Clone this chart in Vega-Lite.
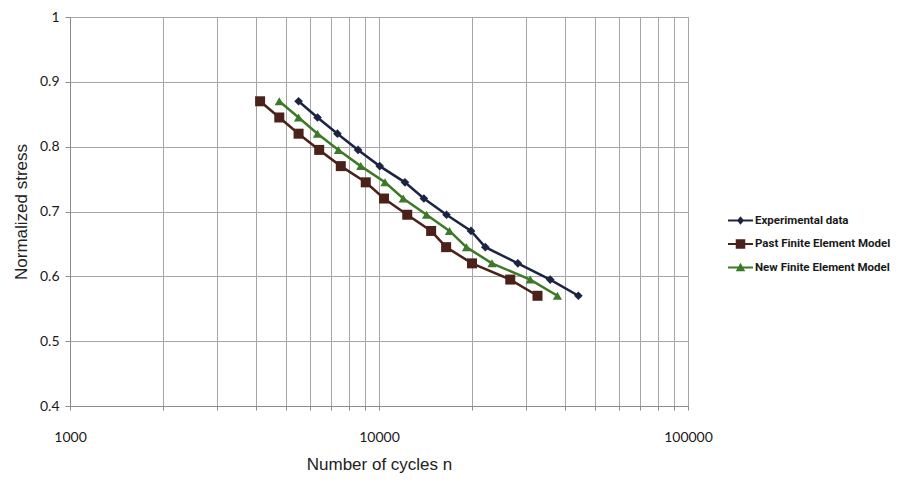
{
  "$schema": "https://vega.github.io/schema/vega-lite/v6.json",
  "width": 618,
  "height": 389,
  "autosize": "none",
  "padding": {"left": 70, "top": 17, "right": 226, "bottom": 79},
  "background": "white",
  "config": {
    "view": {"stroke": "#a0a0a0", "strokeWidth": 1},
    "axis": {"gridColor": "#a6a6a6", "gridWidth": 1, "domainColor": "#8c8c8c", "tickColor": "#8c8c8c", "labelFont": "Lato", "labelFontSize": 14, "labelColor": "#1a1a1a", "titleFont": "Liberation Sans", "titleFontSize": 17, "titleFontWeight": "normal", "titleColor": "#222222"}
  },
  "data": {
    "values": [
      {"series": "Experimental data", "n": 5492, "stress": 0.87},
      {"series": "Experimental data", "n": 6324, "stress": 0.845},
      {"series": "Experimental data", "n": 7337, "stress": 0.82},
      {"series": "Experimental data", "n": 8557, "stress": 0.795},
      {"series": "Experimental data", "n": 10053, "stress": 0.77},
      {"series": "Experimental data", "n": 12133, "stress": 0.745},
      {"series": "Experimental data", "n": 13973, "stress": 0.72},
      {"series": "Experimental data", "n": 16537, "stress": 0.695},
      {"series": "Experimental data", "n": 19851, "stress": 0.67},
      {"series": "Experimental data", "n": 22090, "stress": 0.645},
      {"series": "Experimental data", "n": 28136, "stress": 0.62},
      {"series": "Experimental data", "n": 35810, "stress": 0.595},
      {"series": "Experimental data", "n": 44180, "stress": 0.57},
      {"series": "Past Finite Element Model", "n": 4123, "stress": 0.87},
      {"series": "Past Finite Element Model", "n": 4757, "stress": 0.845},
      {"series": "Past Finite Element Model", "n": 5492, "stress": 0.82},
      {"series": "Past Finite Element Model", "n": 6404, "stress": 0.795},
      {"series": "Past Finite Element Model", "n": 7522, "stress": 0.77},
      {"series": "Past Finite Element Model", "n": 9060, "stress": 0.745},
      {"series": "Past Finite Element Model", "n": 10378, "stress": 0.72},
      {"series": "Past Finite Element Model", "n": 12341, "stress": 0.695},
      {"series": "Past Finite Element Model", "n": 14748, "stress": 0.67},
      {"series": "Past Finite Element Model", "n": 16490, "stress": 0.645},
      {"series": "Past Finite Element Model", "n": 19999, "stress": 0.62},
      {"series": "Past Finite Element Model", "n": 26594, "stress": 0.595},
      {"series": "Past Finite Element Model", "n": 32580, "stress": 0.57},
      {"series": "New Finite Element Model", "n": 4757, "stress": 0.87},
      {"series": "New Finite Element Model", "n": 5492, "stress": 0.845},
      {"series": "New Finite Element Model", "n": 6324, "stress": 0.82},
      {"series": "New Finite Element Model", "n": 7390, "stress": 0.795},
      {"series": "New Finite Element Model", "n": 8730, "stress": 0.77},
      {"series": "New Finite Element Model", "n": 10457, "stress": 0.745},
      {"series": "New Finite Element Model", "n": 11978, "stress": 0.72},
      {"series": "New Finite Element Model", "n": 14253, "stress": 0.695},
      {"series": "New Finite Element Model", "n": 16912, "stress": 0.67},
      {"series": "New Finite Element Model", "n": 19186, "stress": 0.645},
      {"series": "New Finite Element Model", "n": 23206, "stress": 0.62},
      {"series": "New Finite Element Model", "n": 30862, "stress": 0.595},
      {"series": "New Finite Element Model", "n": 37790, "stress": 0.57}
    ]
  },
  "encoding": {
    "x": {
      "field": "n", "type": "quantitative",
      "scale": {"type": "log", "domain": [1000, 100000], "nice": false},
      "axis": {
        "title": "Number of cycles n",
        "values": [1000, 2000, 3000, 4000, 5000, 6000, 7000, 8000, 9000, 10000, 20000, 30000, 40000, 50000, 60000, 70000, 80000, 90000, 100000],
        "labelExpr": "datum.value == 1000 || datum.value == 10000 || datum.value == 100000 ? datum.value + '' : ''",
        "tickSize": 4, "labelPadding": 20, "titlePadding": 12, "labelFlush": false, "labelOverlap": false
      }
    },
    "y": {
      "field": "stress", "type": "quantitative",
      "scale": {"domain": [0.4, 1], "nice": false, "zero": false},
      "axis": {"title": "Normalized stress", "values": [0.4, 0.5, 0.6, 0.7, 0.8, 0.9, 1], "format": "~g", "tickSize": 5, "labelPadding": 6, "titlePadding": 9}
    },
    "color": {
      "field": "series", "type": "nominal",
      "sort": ["Experimental data", "Past Finite Element Model", "New Finite Element Model"],
      "scale": {"domain": ["Experimental data", "Past Finite Element Model", "New Finite Element Model"], "range": ["#1c2444", "#4a2219", "#3c7a27"]},
      "legend": {
        "title": null, "orient": "none", "legendX": 658, "legendY": 191,
        "labelFont": "Roboto", "labelFontSize": 11.5, "labelFontWeight": "bold", "labelColor": "#1a1a1a",
        "symbolSize": 625, "rowPadding": 5.5, "labelOffset": 2,
        "encode": {
          "symbols": {
            "update": {
              "shape": {"signal": "datum.value == 'Experimental data' ? 'M-1,-0.08H1V0.08H-1Z M0,-0.34L0.28,0L0,0.34L-0.28,0Z' : datum.value == 'Past Finite Element Model' ? 'M-1,-0.08H1V0.08H-1Z M-0.38,-0.38H0.38V0.38H-0.38Z' : 'M-1,-0.08H1V0.08H-1Z M0,-0.38L0.38,0.3H-0.38Z'"},
              "fill": {"scale": "color", "field": "value"},
              "fillOpacity": {"value": 1},
              "strokeWidth": {"value": 0},
              "opacity": {"value": 1}
            }
          }
        }
      }
    }
  },
  "layer": [
    {"mark": {"type": "line", "strokeWidth": 2.5}},
    {
      "transform": [{"filter": "datum.series == 'Experimental data'"}],
      "mark": {"type": "point", "shape": "diamond", "filled": true, "opacity": 1, "size": 75}
    },
    {
      "transform": [{"filter": "datum.series == 'Past Finite Element Model'"}],
      "mark": {"type": "point", "shape": "square", "filled": true, "opacity": 1, "size": 100}
    },
    {
      "transform": [{"filter": "datum.series == 'New Finite Element Model'"}],
      "mark": {"type": "point", "shape": "triangle-up", "filled": true, "opacity": 1, "size": 85}
    }
  ]
}
